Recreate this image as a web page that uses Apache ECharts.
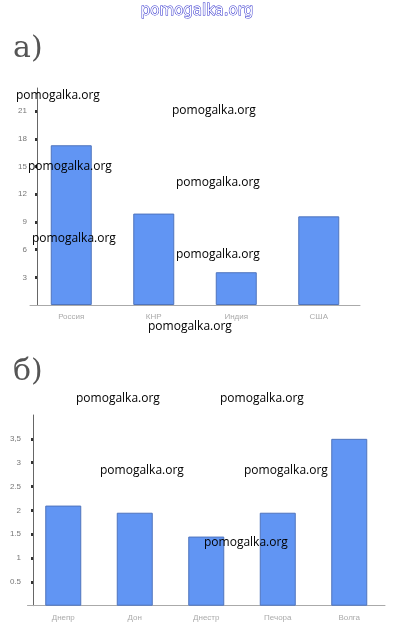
<!DOCTYPE html>
<html><head><meta charset="utf-8">
<script src="https://cdn.jsdelivr.net/npm/echarts@6/dist/echarts.min.js"></script>
<style>html,body{margin:0;padding:0;background:#fff}#c{width:394px;height:642px}</style>
</head><body><div id="c"></div>
<script>
var catsA = ['Россия', 'КНР', 'Индия', 'США'];
var valsA = [17.3, 9.9, 3.55, 9.6];
var ticksA = [3, 6, 9, 12, 15, 18, 21];

var catsB = ['Днепр', 'Дон', 'Днестр', 'Печора', 'Волга'];
var valsB = [2.1, 1.95, 1.45, 1.95, 3.5];
var ticksB = [0.5, 1, 1.5, 2, 2.5, 3, 3.5];
var tickLabelsB = ['0.5', '1', '1.5', '2', '2.5', '3', '3,5'];

var barColor = '#6195f3';
var chart = echarts.init(document.getElementById('c'), null, {renderer: 'canvas'});

function yAxisCfg(gridIndex, max, ticks, fmt, offset, margin) {
  return {
    type: 'value', gridIndex: gridIndex, min: 0, max: max, offset: offset,
    splitLine: {show: false},
    axisLine: {show: true, lineStyle: {color: '#666', width: 1}},
    axisTick: {show: true, customValues: ticks, length: 2, lineStyle: {color: '#333', width: 3}},
    axisLabel: {customValues: ticks, margin: margin, color: '#777', fontSize: 8,
      fontFamily: 'Liberation Sans', formatter: fmt}
  };
}
function xAxisCfg(gridIndex, cats) {
  return {
    type: 'category', gridIndex: gridIndex, data: cats,
    axisLine: {show: true, lineStyle: {color: '#aaa', width: 1}},
    axisTick: {show: false},
    axisLabel: {color: '#aaa', fontSize: 8, margin: 8, fontFamily: 'Liberation Sans'}
  };
}

var wm = [
  [16, 95], [172, 110], [28, 166], [176, 182], [32, 238], [176, 254], [148, 326],
  [76, 398], [220, 398], [100, 470], [244, 470], [204, 542]
];
var graphics = wm.map(function (p) {
  return {type: 'text', left: p[0], top: p[1] - 5, z: 100,
    style: {text: 'pomogalka.org', fill: '#000', font: '12px "Open Sans"'}};
});
graphics.push({type: 'text', left: 'center', top: 3, z: 100,
  style: {text: 'pomogalka.org', fill: '#fff', stroke: '#2a2acc', lineWidth: 1,
    font: '15px "DejaVu Sans"'}});
graphics.push({type: 'text', left: 13, top: 34, style: {text: 'а)', fill: '#555', font: '30px "DejaVu Serif"'}});
graphics.push({type: 'text', left: 13, top: 357, style: {text: 'б)', fill: '#555', font: '30px "DejaVu Serif"'}});

chart.setOption({
  animation: false,
  grid: [
    {left: 30, width: 330, top: 88, height: 217},
    {left: 27.5, width: 357.5, top: 415, height: 190.7}
  ],
  xAxis: [xAxisCfg(0, catsA), xAxisCfg(1, catsB)],
  yAxis: [
    yAxisCfg(0, 23.5, ticksA, function (v) { return String(v); }, -7, 10),
    yAxisCfg(1, 4, ticksB, function (v) { return tickLabelsB[ticksB.indexOf(v)]; }, -5.5, 12)
  ],
  series: [
    {type: 'bar', xAxisIndex: 0, yAxisIndex: 0, data: valsA, barWidth: 41,
      itemStyle: {color: barColor, borderColor: '#4f74bd', borderWidth: 1}},
    {type: 'bar', xAxisIndex: 1, yAxisIndex: 1, data: valsB, barWidth: 36,
      itemStyle: {color: barColor, borderColor: '#4f74bd', borderWidth: 1}}
  ],
  graphic: graphics
});
</script></body></html>
